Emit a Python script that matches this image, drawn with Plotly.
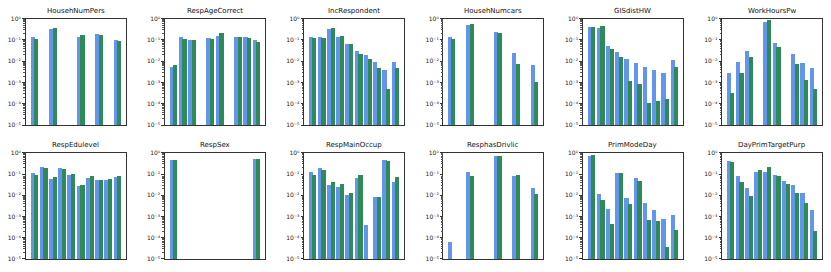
import plotly.graph_objects as go

# ---- data: fraction per histogram bin (10 bins), 0 = empty bin ----
bins = list(range(10))

househnumpers_blue  = [0.15, 0, 0.34, 0, 0, 0.145, 0, 0.20, 0, 0.105]
househnumpers_green = [0.11, 0, 0.39, 0, 0, 0.17, 0, 0.18, 0, 0.092]

respagecorrect_blue  = [0.0057, 0.145, 0.099, 0, 0.13, 0.16, 0, 0.15, 0.14, 0.10]
respagecorrect_green = [0.0069, 0.118, 0.105, 0, 0.115, 0.22, 0, 0.145, 0.135, 0.08]

increspondent_blue  = [0.145, 0.14, 0.35, 0.15, 0.069, 0.032, 0.0196, 0.0091, 0.004, 0.0097]
increspondent_green = [0.127, 0.13, 0.39, 0.16, 0.069, 0.024, 0.013, 0.005, 0.00049, 0.0052]

househnumcars_blue  = [0.145, 0, 0.50, 0, 0, 0.24, 0, 0.026, 0, 0.0071]
househnumcars_green = [0.11, 0, 0.57, 0, 0, 0.21, 0, 0.0074, 0, 0.0011]

gisdisthw_blue  = [0.42, 0.39, 0.054, 0.027, 0.0138, 0.0085, 0.0053, 0.004, 0.0028, 0.012]
gisdisthw_green = [0.42, 0.45, 0.041, 0.0165, 0.0012, 0.00093, 0.00011, 0.000145, 0.00017, 0.0057]

workhourspw_blue  = [0.0028, 0.0094, 0.031, 0, 0.75, 0.072, 0, 0.023, 0.0085, 0.0052]
workhourspw_green = [0.00033, 0.0028, 0.0165, 0, 0.93, 0.05, 0, 0.0076, 0.0014, 0.00053]

respedulevel_blue  = [0.12, 0.22, 0.06, 0.20, 0.091, 0.0275, 0.069, 0.054, 0.052, 0.071]
respedulevel_green = [0.095, 0.20, 0.076, 0.17, 0.10, 0.03, 0.085, 0.054, 0.06, 0.082]

respsex_blue  = [0.47, 0, 0, 0, 0, 0, 0, 0, 0, 0.53]
respsex_green = [0.47, 0, 0, 0, 0, 0, 0, 0, 0, 0.53]

respmainoccup_blue  = [0.13, 0.19, 0.03, 0.025, 0.0103, 0.064, 0.00039, 0.0083, 0.45, 0.045]
respmainoccup_green = [0.09, 0.16, 0.042, 0.034, 0.013, 0.092, 0, 0.0083, 0.44, 0.074]

resphasdrivlic_blue  = [0.000068, 0, 0.13, 0, 0, 0.70, 0, 0.082, 0, 0.022]
resphasdrivlic_green = [0, 0, 0.08, 0, 0, 0.75, 0, 0.095, 0, 0.0123]

primmodeday_blue  = [0.70, 0.0115, 0.0023, 0.112, 0.0073, 0.069, 0.0042, 0.0020, 0.0008, 0.00124]
primmodeday_green = [0.78, 0.0059, 0.00046, 0.112, 0.0041, 0.047, 0.0007, 0.00063, 0.000038, 0.00025]

dayprimtargetpurp_blue  = [0.42, 0.085, 0.023, 0.13, 0.13, 0.091, 0.05, 0.03, 0.0136, 0.002]
dayprimtargetpurp_green = [0.36, 0.044, 0.0096, 0.166, 0.22, 0.08, 0.035, 0.0136, 0.0044, 0.00022]

panels = [
    ("HousehNumPers", househnumpers_blue, househnumpers_green),
    ("RespAgeCorrect", respagecorrect_blue, respagecorrect_green),
    ("IncRespondent", increspondent_blue, increspondent_green),
    ("HousehNumcars", househnumcars_blue, househnumcars_green),
    ("GISdistHW", gisdisthw_blue, gisdisthw_green),
    ("WorkHoursPw", workhourspw_blue, workhourspw_green),
    ("RespEdulevel", respedulevel_blue, respedulevel_green),
    ("RespSex", respsex_blue, respsex_green),
    ("RespMainOccup", respmainoccup_blue, respmainoccup_green),
    ("ResphasDrivlic", resphasdrivlic_blue, resphasdrivlic_green),
    ("PrimModeDay", primmodeday_blue, primmodeday_green),
    ("DayPrimTargetPurp", dayprimtargetpurp_blue, dayprimtargetpurp_green),
]

ytick_vals = [1e-5, 1e-4, 1e-3, 1e-2, 1e-1, 1]
ytick_text = ["10⁻⁵", "10⁻⁴", "10⁻³", "10⁻²", "10⁻¹", "10⁰"]

BLUE = "#6495ED"
GREEN = "#2E8B57"
FONT = "DejaVu Sans"
W, H = 831, 272
lefts = [25.5 + 139.3 * i for i in range(6)]
PW = 100
rows = [(15.0, 124.3), (152.7, 261.7)]

minor_vals = [m * 10.0 ** e for e in range(-5, 0) for m in range(2, 10)]

fig = go.Figure()
annotations = []
for k, (name, blue, green) in enumerate(panels):
    r, c = divmod(k, 6)
    sfx = "" if k == 0 else str(k + 1)
    x0, x1 = lefts[c] / W, (lefts[c] + PW) / W
    y0, y1 = 1 - rows[r][1] / H, 1 - rows[r][0] / H
    fig.add_trace(go.Bar(x=bins, y=[v if v > 0 else None for v in blue],
                         xaxis="x" + sfx, yaxis="y" + sfx, marker_color=BLUE,
                         marker_line_width=0, width=0.45, offset=0.075,
                         showlegend=False, hoverinfo="skip"))
    fig.add_trace(go.Bar(x=bins, y=[v if v > 0 else None for v in green],
                         xaxis="x" + sfx, yaxis="y" + sfx, marker_color=GREEN,
                         marker_line_width=0, width=0.45, offset=0.475,
                         showlegend=False, hoverinfo="skip"))
    fig.layout["xaxis" + sfx] = dict(
        domain=[x0, x1], anchor="y" + sfx, range=[-0.42, 10.42], autorange=False,
        showticklabels=False, ticks="", showgrid=False, zeroline=False,
        showline=True, mirror=True, linecolor="#333", linewidth=0.8)
    fig.layout["yaxis" + sfx] = dict(
        domain=[y0, y1], anchor="x" + sfx, type="log", range=[-5, 0], autorange=False,
        tickmode="array", tickvals=ytick_vals, ticktext=ytick_text,
        ticks="outside", ticklen=2.5, tickwidth=0.7, tickcolor="#333",
        tickfont=dict(family=FONT, size=6, color="#222"),
        showgrid=False, zeroline=False,
        showline=True, mirror=True, linecolor="#333", linewidth=0.8,
        minor=dict(tickmode="array", tickvals=minor_vals, ticks="outside",
                   ticklen=1.5, tickwidth=0.5, tickcolor="#555", showgrid=False))
    annotations.append(dict(
        text=name, xref="paper", yref="paper", x=(x0 + x1) / 2, y=y1,
        yshift=2, xanchor="center", yanchor="bottom", showarrow=False,
        font=dict(family=FONT, size=7, color="#111")))

fig.update_layout(
    width=W, height=H, margin=dict(l=0, r=0, t=0, b=0),
    paper_bgcolor="white", plot_bgcolor="white",
    barmode="overlay", bargap=0, annotations=annotations,
    font=dict(family=FONT),
)
fig.write_html("out.html", config={"displayModeBar": False},
               post_script="document.body.style.margin='0';document.body.style.padding='0';")
